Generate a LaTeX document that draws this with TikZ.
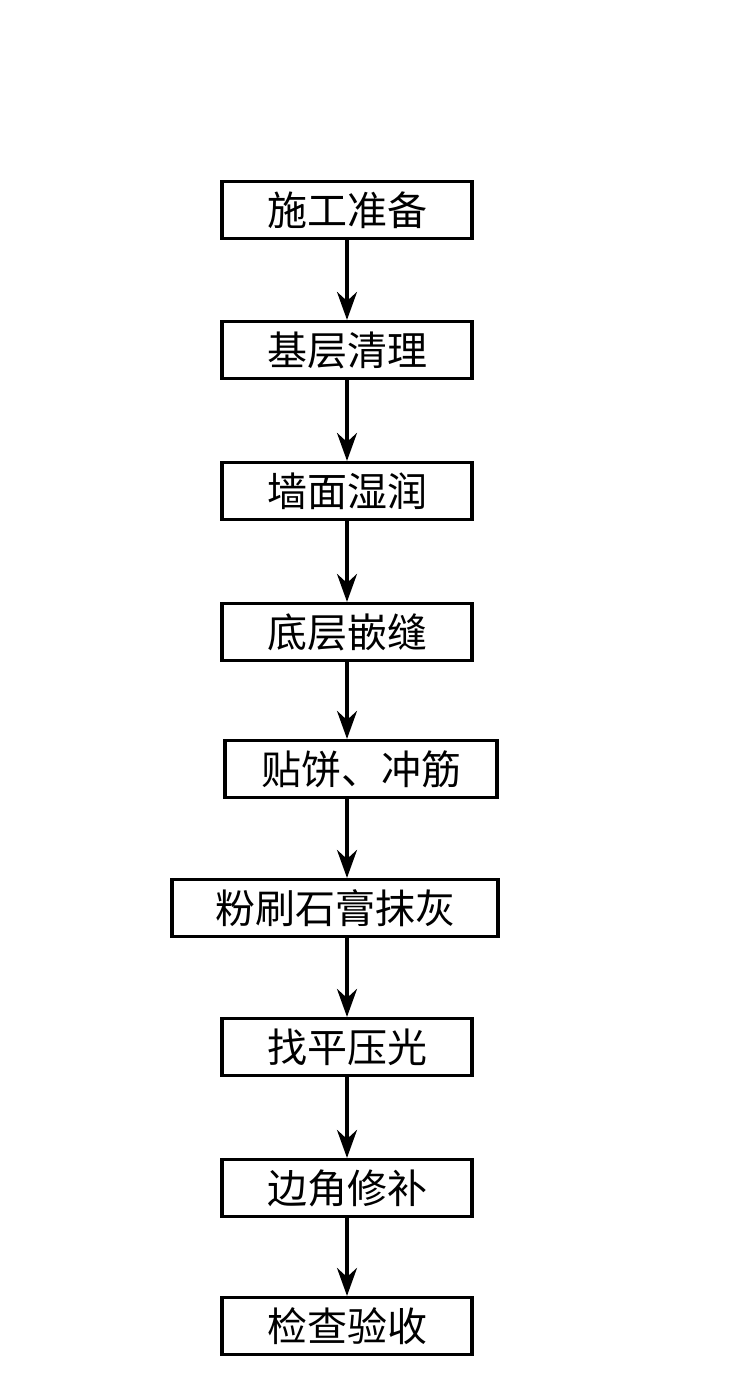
\documentclass[tikz,border=0pt]{standalone}
\usepackage{fontspec}
\setmainfont{Noto Sans CJK SC}
\usetikzlibrary{arrows.meta}
\begin{document}
\begin{tikzpicture}[x=1pt,y=-1pt,
  box/.style={draw,line width=3.2pt,minimum height=57pt,inner sep=0pt,font=\fontsize{40}{42}\selectfont},
  arr/.style={line width=3.2pt,-{Stealth[length=28pt,width=20pt]}}]
\useasboundingbox (0,0) rectangle (735,1394);
\node[box,minimum width=250pt] (a) at (347,210) {施工准备};
\node[box,minimum width=250pt] (b) at (347,350) {基层清理};
\node[box,minimum width=250pt] (c) at (347,491) {墙面湿润};
\node[box,minimum width=250pt] (d) at (347,632) {底层嵌缝};
\node[box,minimum width=272pt] (e) at (361,769) {贴饼、冲筋};
\node[box,minimum width=326pt] (f) at (335,908) {粉刷石膏抹灰};
\node[box,minimum width=250pt] (g) at (347,1047) {找平压光};
\node[box,minimum width=250pt] (h) at (347,1188) {边角修补};
\node[box,minimum width=250pt] (i) at (347,1326) {检查验收};
\foreach \p/\q in {a/b,b/c,c/d,d/e,e/f,f/g,g/h,h/i}
  \draw[arr] (\p.south -| 347,0) -- (\q.north -| 347,0);
\end{tikzpicture}
\end{document}
